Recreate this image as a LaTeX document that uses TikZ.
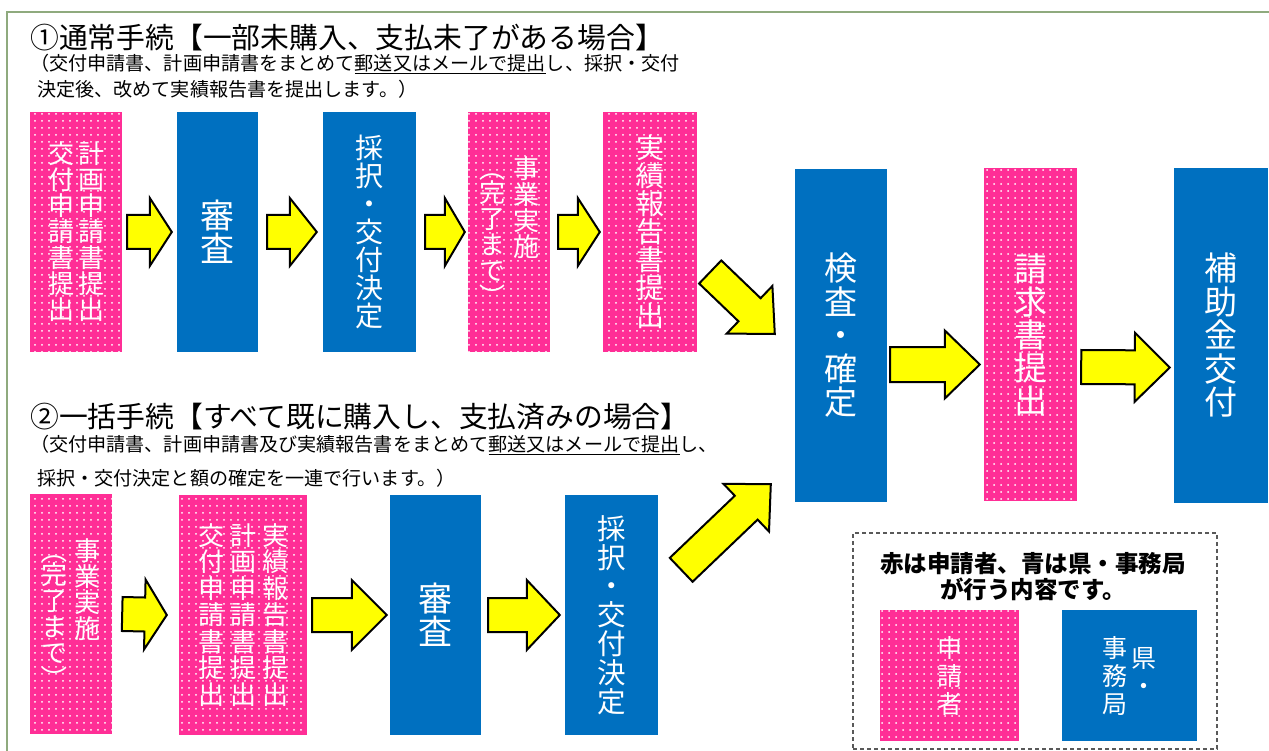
\documentclass[tikz,border=0pt]{standalone}
\usepackage{fontspec}
\setmainfont{Noto Sans CJK JP}
\usetikzlibrary{calc,patterns.meta}
\definecolor{pinkc}{HTML}{FF2E96}
\definecolor{bluec}{HTML}{0070C0}
\definecolor{framec}{HTML}{8FAA7E}
\definecolor{yellc}{HTML}{FFFF00}
\newcommand\vst[1]{\vtop{\let\\\cr\lineskiplimit=-100pt\relax\halign{\hfil##\hfil\cr#1\crcr}}}
\newcommand\fs[2]{\fontsize{#1}{#2}\selectfont}
\newcommand\fatarrow[5]{%
  \coordinate (fa-s) at #1;
  \coordinate (fa-t) at #2;
  \coordinate (fa-h) at ($(fa-t)!#5!(fa-s)$);
  \draw[yarrow] ($(fa-s)!#3!90:(fa-t)$) -- ($(fa-h)!#3!-90:(fa-s)$) -- ($(fa-h)!#4!-90:(fa-s)$) -- (fa-t) -- ($(fa-h)!#4!90:(fa-s)$) -- ($(fa-h)!#3!90:(fa-s)$) -- ($(fa-s)!#3!-90:(fa-t)$) -- cycle;
}
\tikzset{
  pinkbox/.style={fill=pinkc, postaction={pattern={Dots[distance=7pt,radius=1pt]}, pattern color=white}, inner sep=0pt, text=white},
  bluebox/.style={fill=bluec, inner sep=0pt, text=white},
  yarrow/.style={fill=yellc, draw=black, line width=2pt, line join=miter},
  title/.style={anchor=west, inner sep=0pt, font=\fs{28.8}{30}},
  sub/.style={anchor=west, inner sep=0pt, font=\fs{19.1}{22}},
}
\begin{document}
\begin{tikzpicture}[x=1pt,y=-1pt]
\useasboundingbox (0,0) rectangle (1269,751);
\draw[framec, line width=1.5pt] (7,751) -- (7,12) -- (1269,12);

% titles
\node[title] (t1) at (30,38) {①通常手続【一部未購入、支払未了がある場合】};
\node[sub] (s1a) at (30,64) {（交付申請書、計画申請書をまとめて\underline{郵送又はメールで提出}し、採択・交付};
\node[sub] (s1b) at (37,89) {決定後、改めて実績報告書を提出します。）};
\node[title] (t2) at (30,417) {②一括手続【すべて既に購入し、支払済みの場合】};
\node[sub] (s2a) at (30,445) {（交付申請書、計画申請書及び実績報告書をまとめて\underline{郵送又はメールで提出}し、};
\node[sub] (s2b) at (37,478) {採択・交付決定と額の確定を一連で行います。）};

% row 1
\node[pinkbox, minimum width=92pt, minimum height=240pt, font=\fs{26}{26}] (p1) at (76,232)
  {\vst{交\\付\\申\\請\\書\\提\\出}\hspace{4pt}\vst{計\\画\\申\\請\\書\\提\\出}};
\node[bluebox, minimum width=81pt, minimum height=240pt, font=\fs{34}{33}] (b1) at (217.5,232) {\vst{審\\査}};
\node[bluebox, minimum width=93pt, minimum height=240pt, font=\fs{28}{28}] (b2) at (369.5,232) {\vst{採\\択\\・\\交\\付\\決\\定}};
\node[pinkbox, minimum width=82pt, minimum height=240pt, font=\fs{26}{26}] (p2) at (509,232)
  {\vst{︵\\\noalign{\vskip-2pt}完\\了\\ま\\で\\︶}\hspace{8pt}\vst{事\\業\\実\\施}};
\node[pinkbox, minimum width=94pt, minimum height=240pt, font=\fs{28}{28}] (p3) at (650,232) {\vst{実\\績\\報\\告\\書\\提\\出}};

\node[bluebox, minimum width=92pt, minimum height=333pt, font=\fs{33}{33.5}] (b3) at (841,335.5) {\vst{検\\査\\・\\確\\定}};
\node[pinkbox, minimum width=93pt, minimum height=333pt, font=\fs{33}{33}] (p4) at (1030.5,334.5) {\vst{請\\求\\書\\提\\出}};
\node[bluebox, minimum width=94pt, minimum height=335pt, font=\fs{33}{33.5}] (b4) at (1221,335.5) {\vst{補\\助\\金\\交\\付}};

% row 2
\node[pinkbox, minimum width=82pt, minimum height=240pt, font=\fs{26}{26}] (q1) at (71,614)
  {\vst{︵\\\noalign{\vskip-2pt}完\\了\\ま\\で\\︶}\hspace{7pt}\vst{事\\業\\実\\施}};
\node[pinkbox, minimum width=128pt, minimum height=240pt, font=\fs{26}{26.5}] (q2) at (243,615)
  {\vst{交\\付\\申\\請\\書\\提\\出}\hspace{6pt}\vst{計\\画\\申\\請\\書\\提\\出}\hspace{6pt}\vst{実\\績\\報\\告\\書\\提\\出}};
\node[bluebox, minimum width=91pt, minimum height=240pt, font=\fs{34}{33}] (b5) at (435.5,615) {\vst{審\\査}};
\node[bluebox, minimum width=93pt, minimum height=240pt, font=\fs{28.5}{28.8}] (b6) at (611.5,615) {\vst{採\\択\\・\\交\\付\\決\\定}};

% arrows row 1
\fatarrow{($(p1.east)+(5,0)$)}{($(b1.west)+(-5,0)$)}{17pt}{34pt}{22pt}
\fatarrow{($(b1.east)+(9,0)$)}{($(b2.west)+(-6,0)$)}{17pt}{34pt}{27pt}
\fatarrow{($(b2.east)+(9,0)$)}{($(p2.west)+(-3,0)$)}{17pt}{34pt}{20pt}
\fatarrow{($(p2.east)+(8,0)$)}{($(p3.west)+(-3,0)$)}{17pt}{34pt}{22pt}
\fatarrow{($(p3.east)+(13,40)$)}{($(b3.west)+(-20,-1.5)$)}{16pt}{33pt}{35pt}
\fatarrow{($(b3.east)+(3,29)$)}{($(p4.west)+(-4,30)$)}{17.5pt}{34pt}{35pt}
\fatarrow{($(p4.east)+(4,32.5)$)}{($(b4.west)+(-4,32)$)}{17pt}{34.5pt}{35pt}
% arrows row 2
\fatarrow{($(q1.east)+(10,0)$)}{($(q2.west)+(-12,0)$)}{17pt}{35pt}{22pt}
\fatarrow{($(q2.east)+(5,0)$)}{($(b5.west)+(-3,0)$)}{17pt}{35pt}{35pt}
\fatarrow{($(b5.east)+(7,0)$)}{($(b6.west)+(-5,0)$)}{17pt}{35pt}{33pt}
\fatarrow{($(b6.north east)+(23,75)$)}{($(b3.south west)+(-24,-18)$)}{16.5pt}{33pt}{34pt}

% legend
\node[draw=black!65, dashed, dash pattern=on 4pt off 3pt, line width=1.3pt, minimum width=364pt, minimum height=216pt, inner sep=0pt] (leg) at (1035,641) {};
\node[align=center, inner sep=0pt, font=\fs{23.5}{26}\bfseries] (legt) at (1033,577) {赤は申請者、青は県・事務局\\が行う内容です。};
\node[pinkbox, minimum width=139pt, minimum height=131pt, font=\fs{25}{28}] (lp) at (949.5,675.5) {\vst{申\\請\\者}};
\node[bluebox, minimum width=135pt, minimum height=131pt, font=\fs{25}{28}] (lb) at (1129.5,675.5) {\vst{事\\務\\局}\hspace{4pt}\lower10pt\hbox{\vst{県\\・}}};
\end{tikzpicture}
\end{document}
